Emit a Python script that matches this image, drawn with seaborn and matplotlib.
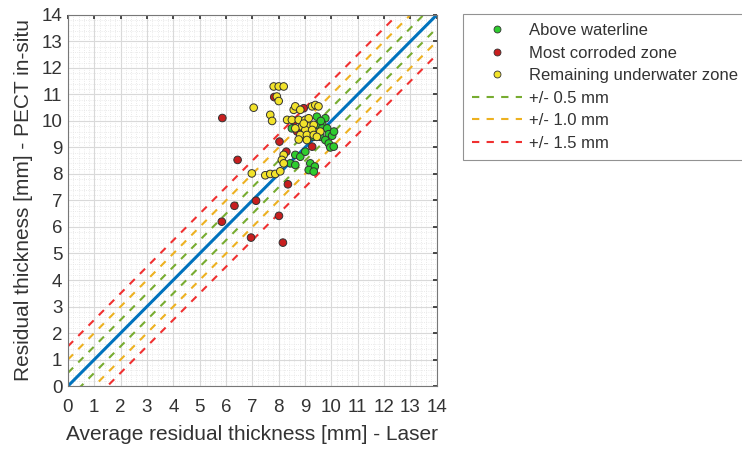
import numpy as np
import pandas as pd
import matplotlib
matplotlib.use("Agg")
import matplotlib.pyplot as plt
import seaborn as sns
from matplotlib.ticker import MultipleLocator
from matplotlib.lines import Line2D

# ---- data ----
green_x = [9.45, 9.77, 9.65, 9.45, 9.65, 9.84, 9.9, 10.03, 9.58, 9.77, 9.9, 9.96, 10.09,
           8.5, 8.76, 9.07, 9.27, 9.33, 8.88, 8.63, 8.82, 9.01, 8.44, 9.2, 9.37, 9.14,
           9.33, 8.63, 9.6, 10.1]
green_y = [10.16, 10.1, 9.9, 9.85, 9.72, 9.72, 9.5, 9.44, 9.4, 9.28, 9.15, 9.0, 9.03,
           9.72, 9.6, 9.6, 9.72, 9.4, 9.4, 8.72, 8.65, 8.84, 8.4, 8.4, 8.28, 8.15,
           8.09, 8.34, 10.0, 9.6]
red_x = [5.86, 6.44, 6.32, 5.84, 7.14, 6.95, 8.01, 8.16, 8.35, 8.03, 8.29, 7.83, 9.27,
         8.6, 8.95, 8.7]
red_y = [10.11, 8.53, 6.8, 6.2, 6.99, 5.6, 6.42, 5.41, 7.61, 9.22, 8.84, 10.9, 9.03,
         10.0, 10.48, 9.6]
yellow_x = [7.81, 8.0, 8.19, 7.93, 8.0, 7.05, 7.68, 7.75, 8.57, 8.63, 8.82, 9.27, 9.39,
            9.51, 8.32, 8.5, 8.76, 9.01, 9.14, 8.88, 9.14, 9.33, 8.63, 9.01, 9.27, 8.82,
            9.07, 9.33, 9.58, 9.07, 9.45, 8.19, 8.12, 8.19, 7.49, 7.68, 7.87, 8.06, 6.98,
            8.76, 8.95]
yellow_y = [11.3, 11.3, 11.3, 10.92, 10.75, 10.5, 10.23, 10.0, 10.42, 10.55, 10.42, 10.55,
            10.6, 10.55, 10.04, 10.04, 10.04, 10.04, 10.1, 9.79, 9.79, 9.85, 9.72, 9.66,
            9.66, 9.47, 9.47, 9.47, 9.6, 9.28, 9.4, 8.72, 8.53, 8.4, 7.95, 8.0, 8.0, 8.1,
            8.02, 9.3, 9.9]
zones = ["Above waterline", "Most corroded zone", "Remaining underwater zone"]
offsets = [0.5, 1.0, 1.5]
offset_labels = ["+/- 0.5 mm", "+/- 1.0 mm", "+/- 1.5 mm"]
ticks = list(range(0, 15))
line_x = [0, 14]

df = pd.DataFrame({
    "x": green_x + red_x + yellow_x,
    "y": green_y + red_y + yellow_y,
    "zone": [zones[0]] * len(green_x) + [zones[1]] * len(red_x) + [zones[2]] * len(yellow_x),
})

sns.set_theme(style="white")
plt.rcParams["font.family"] = ["Liberation Sans", "DejaVu Sans"]

fig = plt.figure(figsize=(7.42, 4.51), dpi=100)
ax = fig.add_axes([0.0916, 0.144, 0.497, 0.823])

zone_colors = {zones[0]: "#2ecc2e", zones[1]: "#c81e1e", zones[2]: "#f2e32a"}
off_colors = ["#77AC30", "#EDB120", "#F03030"]

ax.set_axisbelow(True)
ax.grid(which="major", color="#d9d9d9", linewidth=0.8, linestyle="-")
ax.grid(which="minor", color="#e3e3e3", linewidth=0.6, linestyle=":")

ax.plot(line_x, line_x, color="#0072BD", linewidth=2.2, zorder=2)
handles_lines = []
for off, col, lab in zip(offsets, off_colors, offset_labels):
    h, = ax.plot(line_x, [v + off for v in line_x], color=col, linestyle=(0, (3.5, 3.5)),
                 linewidth=1.5, label=lab, zorder=2)
    ax.plot(line_x, [v - off for v in line_x], color=col, linestyle=(0, (3.5, 3.5)),
            linewidth=1.5, zorder=2)
    handles_lines.append(h)

sns.scatterplot(data=df, x="x", y="y", hue="zone", hue_order=zones, palette=zone_colors,
                s=30, edgecolor="#333333", linewidth=0.7, ax=ax, zorder=3, legend=False)

ax.set_xlim(0, 14)
ax.set_ylim(0, 14)
ax.set_xticks(ticks)
ax.set_yticks(ticks)
ax.xaxis.set_minor_locator(MultipleLocator(0.2))
ax.yaxis.set_minor_locator(MultipleLocator(0.2))
ax.tick_params(which="major", direction="in", length=3, labelsize=13.5, colors="#333333",
               top=True, right=True, pad=4)
ax.tick_params(axis="x", which="major", pad=9.5)
ax.tick_params(which="minor", length=0)
for sp in ax.spines.values():
    sp.set_color("#777777")
    sp.set_linewidth(0.8)
ax.set_xlabel("Average residual thickness [mm] - Laser", fontsize=15, color="#333333",
              labelpad=6)
ax.set_ylabel("Residual thickness [mm] - PECT in-situ", fontsize=15, color="#333333",
              labelpad=6)

marker_handles = [Line2D([], [], marker="o", linestyle="", markersize=5,
                         markerfacecolor=zone_colors[z], markeredgecolor="#333333",
                         markeredgewidth=0.6, label=z) for z in zones]
leg = fig.legend(handles=marker_handles + handles_lines,
                 loc="upper left", bbox_to_anchor=(0.624, 0.969), borderaxespad=0,
                 fontsize=12, frameon=True, fancybox=False, edgecolor="#777777",
                 handlelength=3, handletextpad=0.4, labelspacing=0.45, borderpad=0.55)
leg.get_frame().set_linewidth(0.8)
for t in leg.get_texts():
    t.set_color("#333333")

fig.savefig("out.png", dpi=100, facecolor="white")
